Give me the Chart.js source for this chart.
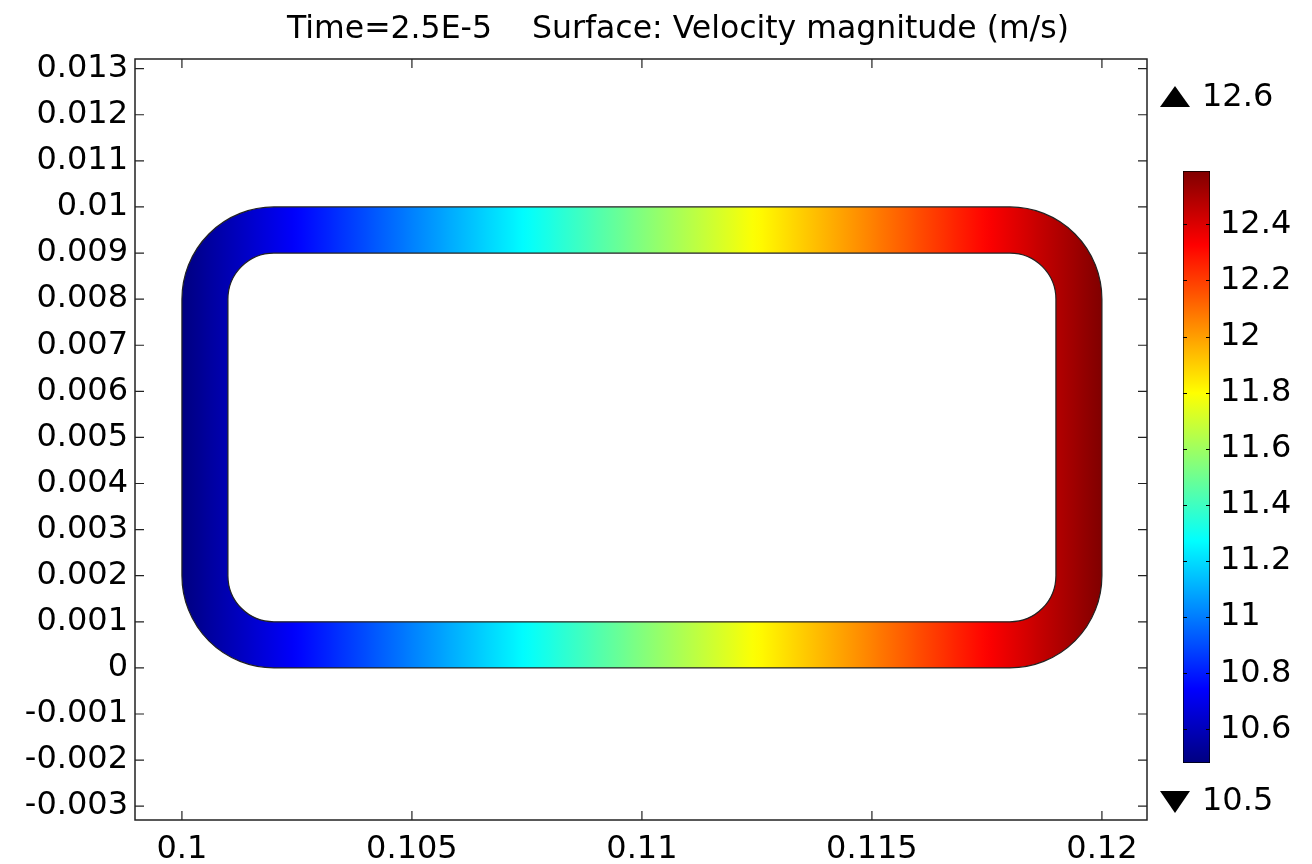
<!DOCTYPE html>
<html>
<head>
<meta charset="utf-8">
<script src="https://cdn.jsdelivr.net/npm/chart.js@4.4.1/dist/chart.umd.min.js"></script>
<style>
  html, body { margin: 0; padding: 0; background: #fff; }
  #wrap { position: relative; width: 1312px; height: 864px; }
  #mainBox { position: absolute; left: 0; top: 0; width: 1312px; height: 864px; }
  #barBox { position: absolute; left: 1150px; top: 0; width: 162px; height: 864px; }
</style>
</head>
<body>
<div id="wrap">
  <div id="mainBox"><canvas id="fieldChart"></canvas></div>
  <div id="barBox"><canvas id="legendChart"></canvas></div>
</div>
<script>
// tiêu đề của biểu đồ
const plotTitle = 'Time=2.5E-5    Surface: Velocity magnitude (m/s)';

// hình học kênh dẫn (m): hình chữ nhật bo góc ngoài và trong
const outerX = [0.1, 0.12];
const outerY = [0, 0.01];
const outerRadius = 0.002;
const innerX = [0.101, 0.119];
const innerY = [0.001, 0.009];
const innerRadius = 0.001;

// vận tốc đọc được theo trục x (m/s)
const speedX = [0.1, 0.105, 0.11, 0.115, 0.12];
const speedValues = [10.48, 11.01, 11.54, 12.06, 12.59];

// nhãn trục
const xTicks = [0.1, 0.105, 0.11, 0.115, 0.12];
const xTickLabels = ['0.1', '0.105', '0.11', '0.115', '0.12'];
const yTicks = [-0.003, -0.002, -0.001, 0, 0.001, 0.002, 0.003, 0.004, 0.005, 0.006, 0.007, 0.008, 0.009, 0.01, 0.011, 0.012, 0.013];
const yTickLabels = ['-0.003', '-0.002', '-0.001', '0', '0.001', '0.002', '0.003', '0.004', '0.005', '0.006', '0.007', '0.008', '0.009', '0.01', '0.011', '0.012', '0.013'];

// thang màu
const colorRange = [10.48, 12.59];
const colorTicks = [10.6, 10.8, 11, 11.2, 11.4, 11.6, 11.8, 12, 12.2, 12.4];
const colorTickLabels = ['10.6', '10.8', '11', '11.2', '11.4', '11.6', '11.8', '12', '12.2', '12.4'];

const FONT = 'DejaVu Sans';
const TICK_SIZE = 32;
Chart.defaults.color = '#000';
Chart.defaults.font.family = FONT;

// bảng màu kiểu "jet"
const jetStops = [[0, [0, 0, 128]], [0.125, [0, 0, 255]], [0.375, [0, 255, 255]], [0.625, [255, 255, 0]], [0.875, [255, 0, 0]], [1, [128, 0, 0]]];
function jet(t) {
    t = Math.max(0, Math.min(1, t));
    for (let i = 1; i < jetStops.length; i++) {
        const [t1, c1] = jetStops[i];
        const [t0, c0] = jetStops[i - 1];
        if (t <= t1) {
            const f = (t - t0) / (t1 - t0);
            const c = c0.map((v, k) => Math.round(v + (c1[k] - v) * f));
            return `rgb(${c[0]},${c[1]},${c[2]})`;
        }
    }
    return 'rgb(128,0,0)';
}

function speedAt(xv) {
    if (xv <= speedX[0]) return speedValues[0];
    for (let i = 1; i < speedX.length; i++) {
        if (xv <= speedX[i]) {
            const f = (xv - speedX[i - 1]) / (speedX[i] - speedX[i - 1]);
            return speedValues[i - 1] + (speedValues[i] - speedValues[i - 1]) * f;
        }
    }
    return speedValues[speedValues.length - 1];
}

// vẽ hình chữ nhật bo góc theo toạ độ dữ liệu
function roundedRect(ctx, xs, ys, xr, yr, r) {
    const x0 = xs.getPixelForValue(xr[0]), x1 = xs.getPixelForValue(xr[1]);
    const yT = ys.getPixelForValue(yr[1]), yB = ys.getPixelForValue(yr[0]);
    const rx = Math.abs(xs.getPixelForValue(xr[0] + r) - x0);
    const ry = Math.abs(ys.getPixelForValue(yr[0] + r) - yB);
    ctx.moveTo(x0 + rx, yT);
    ctx.lineTo(x1 - rx, yT);
    ctx.ellipse(x1 - rx, yT + ry, rx, ry, 0, -Math.PI / 2, 0);
    ctx.lineTo(x1, yB - ry);
    ctx.ellipse(x1 - rx, yB - ry, rx, ry, 0, 0, Math.PI / 2);
    ctx.lineTo(x0 + rx, yB);
    ctx.ellipse(x0 + rx, yB - ry, rx, ry, 0, Math.PI / 2, Math.PI);
    ctx.lineTo(x0, yT + ry);
    ctx.ellipse(x0 + rx, yT + ry, rx, ry, 0, Math.PI, Math.PI * 1.5);
    ctx.closePath();
}

const ringPlugin = {
    id: 'ring',
    beforeDatasetsDraw(chart) {
        const { ctx, scales: { x, y } } = chart;
        ctx.save();
        ctx.beginPath();
        roundedRect(ctx, x, y, outerX, outerY, outerRadius);
        roundedRect(ctx, x, y, innerX, innerY, innerRadius);
        const xa = speedX[0], xb = speedX[speedX.length - 1];
        const g = ctx.createLinearGradient(x.getPixelForValue(xa), 0, x.getPixelForValue(xb), 0);
        for (let i = 0; i <= 100; i++) {
            const v = speedAt(xa + (xb - xa) * i / 100);
            g.addColorStop(i / 100, jet((v - colorRange[0]) / (colorRange[1] - colorRange[0])));
        }
        ctx.fillStyle = g;
        ctx.fill('evenodd');
        ctx.lineWidth = 1.2;
        ctx.strokeStyle = '#222';
        ctx.stroke();
        ctx.restore();
    }
};

// khung và vạch chia hướng vào trong
const framePlugin = {
    id: 'frame',
    afterDraw(chart) {
        const { ctx, chartArea: a, scales: { x, y } } = chart;
        const len = 9;
        ctx.save();
        ctx.strokeStyle = '#222';
        ctx.lineWidth = 1.5;
        ctx.strokeRect(a.left, a.top, a.right - a.left, a.bottom - a.top);
        ctx.lineWidth = 1.2;
        ctx.beginPath();
        x.ticks.forEach(t => {
            const px = x.getPixelForValue(t.value);
            ctx.moveTo(px, a.bottom); ctx.lineTo(px, a.bottom - len);
            ctx.moveTo(px, a.top); ctx.lineTo(px, a.top + len);
        });
        y.ticks.forEach(t => {
            const py = y.getPixelForValue(t.value);
            ctx.moveTo(a.left, py); ctx.lineTo(a.left + len, py);
            ctx.moveTo(a.right, py); ctx.lineTo(a.right - len, py);
        });
        ctx.stroke();
        // tiêu đề
        ctx.fillStyle = '#000';
        ctx.font = `31.5px "${FONT}"`;
        ctx.textAlign = 'center';
        ctx.textBaseline = 'alphabetic';
        ctx.fillText(plotTitle, 678, 38);
        ctx.restore();
    }
};

new Chart(document.getElementById('fieldChart'), {
    type: 'scatter',
    data: { datasets: [{ data: [], pointRadius: 0 }] },
    options: {
        responsive: true,
        maintainAspectRatio: false,
        animation: false,
        layout: { padding: { left: 0, right: 165, top: 59, bottom: 0 } },
        plugins: { legend: { display: false }, tooltip: { enabled: false } },
        scales: {
            x: {
                type: 'linear', min: 0.09898, max: 0.12098,
                afterBuildTicks: s => { s.ticks = xTicks.map(v => ({ value: v })); },
                afterFit: s => { s.height = 44; },
                grid: { display: false, drawTicks: false },
                border: { display: false },
                ticks: { padding: 10, autoSkip: false, maxRotation: 0, font: { size: TICK_SIZE }, color: '#000',
                    callback: (v, i) => xTickLabels[i] }
            },
            y: {
                type: 'linear', min: -0.0033, max: 0.01321,
                afterBuildTicks: s => { s.ticks = yTicks.map(v => ({ value: v })); },
                afterFit: s => { s.width = 135; },
                grid: { display: false, drawTicks: false },
                border: { display: false },
                ticks: { padding: 7, autoSkip: false, font: { size: TICK_SIZE }, color: '#000',
                    callback: (v, i) => yTickLabels[i] }
            }
        }
    },
    plugins: [ringPlugin, framePlugin]
});

// thanh màu bên phải
const legendPlugin = {
    id: 'legendMarks',
    afterDraw(chart) {
        const { ctx, chartArea: a, scales: { y } } = chart;
        ctx.save();
        ctx.strokeStyle = '#000';
        ctx.lineWidth = 1;
        ctx.beginPath();
        y.ticks.forEach(t => {
            const py = Math.round(y.getPixelForValue(t.value)) + 0.5;
            ctx.moveTo(a.left, py); ctx.lineTo(a.left + 4, py);
            ctx.moveTo(a.right, py); ctx.lineTo(a.right - 4, py);
        });
        ctx.stroke();
        // tam giác max / min
        ctx.fillStyle = '#000';
        ctx.beginPath();
        ctx.moveTo(10, 107); ctx.lineTo(25, 86); ctx.lineTo(40, 107); ctx.closePath();
        ctx.fill();
        ctx.beginPath();
        ctx.moveTo(10, 791); ctx.lineTo(25, 813); ctx.lineTo(40, 791); ctx.closePath();
        ctx.fill();
        ctx.font = `${TICK_SIZE}px "${FONT}"`;
        ctx.textAlign = 'left';
        ctx.textBaseline = 'middle';
        ctx.fillText(Math.max(...speedValues).toFixed(1), 52, 98);
        ctx.fillText(Math.min(...speedValues).toFixed(1), 52, 802);
        ctx.restore();
    }
};

new Chart(document.getElementById('legendChart'), {
    type: 'bar',
    data: {
        labels: ['speed'],
        datasets: [{
            data: [colorRange],
            backgroundColor: c => {
                const chart = c.chart;
                if (!chart.chartArea) return '#000';
                const ys = chart.scales.y;
                const g = chart.ctx.createLinearGradient(0, ys.getPixelForValue(colorRange[0]), 0, ys.getPixelForValue(colorRange[1]));
                for (let i = 0; i <= 40; i++) g.addColorStop(i / 40, jet(i / 40));
                return g;
            },
            borderColor: '#000',
            borderWidth: 1,
            borderSkipped: false,
            barPercentage: 1,
            categoryPercentage: 1
        }]
    },
    options: {
        responsive: true,
        maintainAspectRatio: false,
        animation: false,
        layout: { padding: { left: 33, right: 0, top: 171, bottom: 101 } },
        plugins: { legend: { display: false }, tooltip: { enabled: false } },
        scales: {
            x: { display: false },
            y: {
                position: 'right', min: colorRange[0], max: colorRange[1],
                afterBuildTicks: s => { s.ticks = colorTicks.map(v => ({ value: v })); },
                afterFit: s => { s.width = 102; },
                grid: { display: false, drawTicks: false },
                border: { display: false },
                ticks: { padding: 10, font: { size: TICK_SIZE }, color: '#000',
                    callback: (v, i) => colorTickLabels[i] }
            }
        }
    },
    plugins: [legendPlugin]
});
</script>
</body>
</html>
